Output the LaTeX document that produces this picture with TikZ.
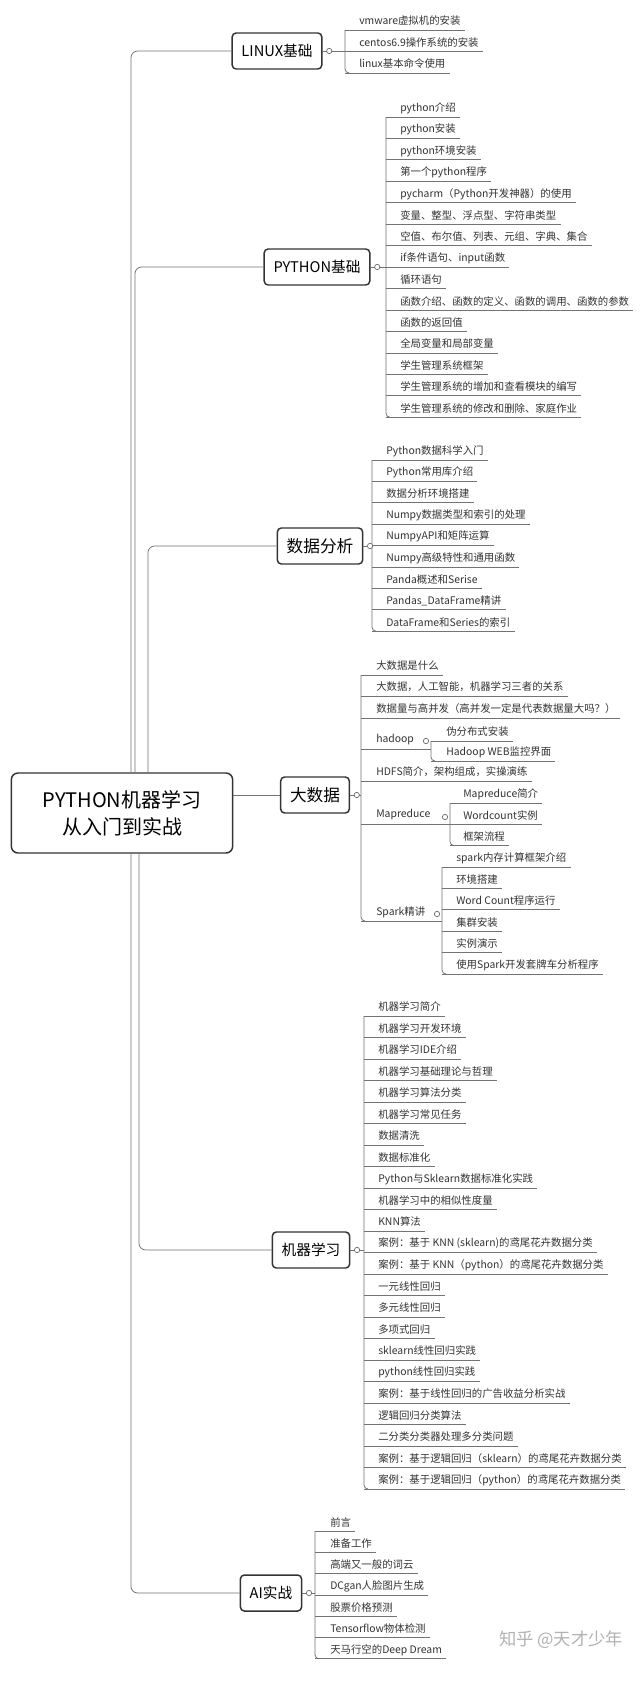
\documentclass[tikz,border=0pt]{standalone}
\usepackage{fontspec}
\setmainfont{Noto Sans CJK SC}
\tikzset{x=0.75pt,y=-0.75pt,
 ln/.style={draw=black!55,line width=0.6pt},
 box/.style={draw=black!80,line width=1.1pt,rounded corners=3pt,font=\fontsize{11}{13}\selectfont,inner xsep=7pt,minimum height=27pt,fill=white},
 it/.style={anchor=west,inner sep=0pt,font=\fontsize{7.8}{9}\selectfont,text=black!80},
 knob/.style={circle,draw=black!60,inner sep=0pt,minimum size=4pt,fill=white,line width=0.5pt}}
% name, linex, textx, y0, dy, n, list
\newcommand\mklist[7]{%
 \draw[ln,rounded corners=3pt] (#2,{#4+9}) -- (#2,{#4+(#6-1)*#5+9}) -- (#2+4,{#4+(#6-1)*#5+9});
 \foreach \t [count=\i] in {#7}{%
  \node[it] (#1\i) at (#3,{#4+(\i-1)*#5}) {\t};
  \path (#1\i.east) ++(4,9) coordinate (#1u\i);
  \draw[ln] (#2,{#4+(\i-1)*#5+9}) -- (#1u\i);}}
\begin{document}
\begin{tikzpicture}
\useasboundingbox (0,0) rectangle (640,1683);
\fill[white] (0,0) rectangle (640,1683);
\node[box,minimum width=166pt,minimum height=60pt,align=center,font=\fontsize{15}{20}\selectfont,rounded corners=5pt] (root) at (122,813) {PYTHON机器学习\\从入门到实战};
\node[box] (linux) at (277,51) {LINUX基础};
\node[box] (py) at (317,267) {PYTHON基础};
\node[box,font=\fontsize{12.5}{14}\selectfont] (da) at (320,546) {数据分析};
\node[box,font=\fontsize{12.5}{14}\selectfont] (bd) at (315,795) {大数据};
\node[box] (ml) at (311,1250) {机器学习};
\node[box] (ai) at (271,1593) {AI实战};
% trunk
\draw[ln,rounded corners=5pt] (131,773) |- (linux.west);
\draw[ln,rounded corners=5pt] (135,773) |- (py.west);
\draw[ln,rounded corners=5pt] (148,773) |- (da.west);
\draw[ln] (233,795) -- (bd.west);
\draw[ln,rounded corners=5pt] (139,853) |- (ml.west);
\draw[ln,rounded corners=5pt] (131,853) |- (ai.west);
% LINUX
\mklist{l}{345}{359}{21}{21.5}{3}{vmware虚拟机的安装,centos6.9操作系统的安装,linux基本命令使用}
\draw[ln] (linux.east) -- (345,51); \node[knob] at ([xshift=5]linux.east) {};
% PYTHON
\mklist{p}{386}{400}{108}{21.45}{15}{python介绍,python安装,python环境安装,第一个python程序,pycharm（Python开发神器）的使用,{变量、整型、浮点型、字符串类型},{空值、布尔值、列表、元组、字典、集合},{if条件语句、input函数},循环语句,{函数介绍、函数的定义、函数的调用、函数的参数},函数的返回值,全局变量和局部变量,学生管理系统框架,学生管理系统的增加和查看模块的编写,{学生管理系统的修改和删除、家庭作业}}
\draw[ln] (py.east) -- (386,267); \node[knob] at ([xshift=5]py.east) {};
% DATA
\mklist{d}{372}{386}{451}{21.4}{9}{Python数据科学入门,Python常用库介绍,数据分析环境搭建,Numpy数据类型和索引的处理,NumpyAPI和矩阵运算,Numpy高级特性和通用函数,Panda概述和Serise,Pandas\_DataFrame精讲,DataFrame和Series的索引}
\draw[ln] (da.east) -- (372,546); \node[knob] at ([xshift=5]da.east) {};
% BIG DATA
\draw[ln,rounded corners=3pt] (361,675) -- (361,921) -- (365,921);
\foreach \n/\y/\t in {b1/666/大数据是什么,b2/687/{大数据，人工智能，机器学习三者的关系},b3/709/{数据量与高并发（高并发一定是代表数据量大吗？）},b5/772/{HDFS简介，架构组成，实操演练}}{
 \node[it] (\n) at (376,\y) {\t};
 \path (\n.east) ++(4,9) coordinate (\n u);
 \draw[ln] (361,\y+9) -- (\n u);}
\foreach \n/\y/\t/\e in {b4/740/hadoop/431,b6/815/Mapreduce/450,b7/912/Spark精讲/442}{
 \node[it] (\n) at (376,\y) {\t};
 \draw[ln] (361,\y+9) -- (\e,\y+9);}
\draw[ln] (bd.east) -- (361,795); \node[knob] at ([xshift=5]bd.east) {};
\mklist{h}{431}{446}{732}{20}{2}{伪分布式安装,Hadoop WEB监控界面}
\node[knob] at (426,741) {};
\mklist{m}{450}{463}{794}{21.3}{3}{Mapreduce简介,Wordcount实例,框架流程}
\node[knob] at (445,817) {};
\mklist{s}{442}{456}{858}{21.4}{6}{spark内存计算框架介绍,环境搭建,Word Count程序运行,集群安装,实例演示,使用Spark开发套牌车分析程序}
\node[knob] at (437,914) {};
% ML
\mklist{k}{364}{378}{1007}{21.5}{23}{机器学习简介,机器学习开发环境,机器学习IDE介绍,机器学习基础理论与哲理,机器学习算法分类,机器学习常见任务,数据清洗,数据标准化,Python与Sklearn数据标准化实践,机器学习中的相似性度量,KNN算法,案例：基于 KNN (sklearn)的鸢尾花卉数据分类,案例：基于 KNN（python）的鸢尾花卉数据分类,一元线性回归,多元线性回归,多项式回归,sklearn线性回归实践,python线性回归实践,案例：基于线性回归的广告收益分析实战,逻辑回归分类算法,二分类分类器处理多分类问题,案例：基于逻辑回归（sklearn）的鸢尾花卉数据分类,案例：基于逻辑回归（python）的鸢尾花卉数据分类}
\draw[ln] (ml.east) -- (364,1250); \node[knob] at ([xshift=5]ml.east) {};
% AI
\mklist{a}{315}{330}{1522}{21.3}{7}{前言,准备工作,高端又一般的词云,DCgan人脸图片生成,股票价格预测,Tensorflow物体检测,天马行空的Deep Dream}
\draw[ln] (ai.east) -- (315,1593); \node[knob] at ([xshift=5]ai.east) {};
\node[text=black!30,font=\fontsize{13}{15}\selectfont,anchor=east] (wm) at (628,1640) {知乎 @天才少年};
\end{tikzpicture}
\end{document}
